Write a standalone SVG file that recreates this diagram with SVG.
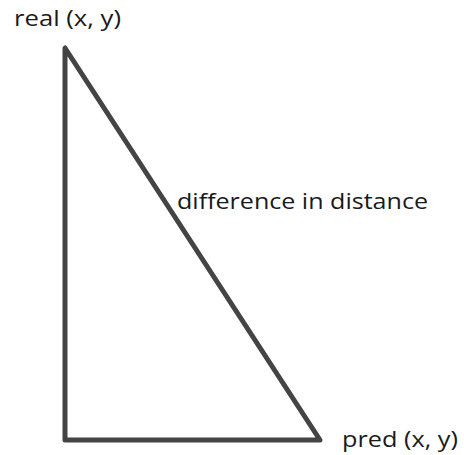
<svg xmlns="http://www.w3.org/2000/svg" width="464" height="455" viewBox="0 0 464 455">
<style>
.lbl{font-family:"Open Sans","Noto Sans",sans-serif;font-size:21px;fill:#1a1a1a}
.edge{fill:none;stroke:#444444;stroke-width:5;stroke-linecap:round;stroke-linejoin:round}
</style>
<rect width="464" height="455" fill="#ffffff"/>
<g id="connectors">
<path class="edge" d="M65,48 L65,440 L320,440 Z"/>
</g>
<g id="real"><text class="lbl" x="14" y="26" textLength="107" lengthAdjust="spacingAndGlyphs">real (x, y)</text></g>
<g id="pred"><text class="lbl" x="342" y="447" textLength="116" lengthAdjust="spacingAndGlyphs">pred (x, y)</text></g>
<g id="diff"><text class="lbl" x="177" y="209" textLength="251" lengthAdjust="spacingAndGlyphs">difference in distance</text></g>
</svg>
